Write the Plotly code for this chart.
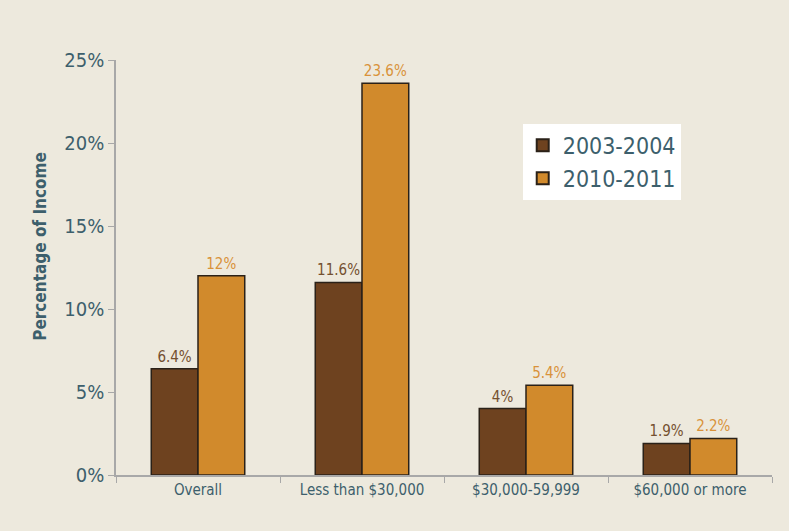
import plotly.graph_objects as go

categories = ["Overall", "Less than $30,000", "$30,000-59,999", "$60,000 or more"]
series_2003 = [6.4, 11.6, 4.0, 1.9]
series_2010 = [12.0, 23.6, 5.4, 2.2]
labels_2003 = ["6.4%", "11.6%", "4%", "1.9%"]
labels_2010 = ["12%", "23.6%", "5.4%", "2.2%"]
y_ticks = [0, 5, 10, 15, 20, 25]
y_tick_labels = ["0%", "5%", "10%", "15%", "20%", "25%"]

FONT = "DejaVu Sans Condensed, Liberation Sans Narrow, Roboto, sans-serif"
SLATE = "#3d5f6c"
BROWN = "#6e421f"
ORANGE = "#d18a2c"

fig = go.Figure()
fig.add_trace(go.Bar(
    name="2003-2004", x=categories, y=series_2003, text=labels_2003,
    textposition="outside", textfont=dict(color="#74502f", size=15, family=FONT),
    marker=dict(color=BROWN, line=dict(color="#2a2118", width=1.5)),
    cliponaxis=False,
))
fig.add_trace(go.Bar(
    name="2010-2011", x=categories, y=series_2010, text=labels_2010,
    textposition="outside", textfont=dict(color="#d9923a", size=15, family=FONT),
    marker=dict(color=ORANGE, line=dict(color="#2a2118", width=1.5)),
    cliponaxis=False,
))

fig.add_annotation(
    text="<b>Percentage of Income</b>", textangle=-90,
    xref="paper", yref="paper", x=-0.116, y=0.552,
    xanchor="center", yanchor="middle", showarrow=False,
    font=dict(size=17, color=SLATE, family=FONT),
)

fig.update_layout(
    width=789, height=531,
    margin=dict(l=116, r=17, t=60, b=56),
    paper_bgcolor="#ede9dd", plot_bgcolor="#ede9dd",
    barmode="group", bargap=0.43, bargroupgap=0,
    font=dict(family=FONT, color=SLATE),
    showlegend=True,
    legend=dict(
        x=0.62, y=0.846, xanchor="left", yanchor="top",
        bgcolor="white", font=dict(size=23, color=SLATE, family=FONT),
        borderwidth=0, itemsizing="constant", tracegroupgap=2,
    ),
    xaxis=dict(
        showline=True, linecolor="#a8a8a8", linewidth=1.5,
        ticks="outside", tickson="boundaries", ticklen=6, tickcolor="#a8a8a8",
        tickfont=dict(size=15, color=SLATE, family=FONT),
        showgrid=False,
    ),
    yaxis=dict(
        range=[0, 25], tickvals=y_ticks, ticktext=y_tick_labels,
        showline=True, linecolor="#a8a8a8", linewidth=1.5,
        ticks="outside", ticklen=6, tickcolor="#a8a8a8",
        tickfont=dict(size=20, color=SLATE, family=FONT),
        showgrid=False, zeroline=False,
    ),
)

fig.write_html("out.html")
